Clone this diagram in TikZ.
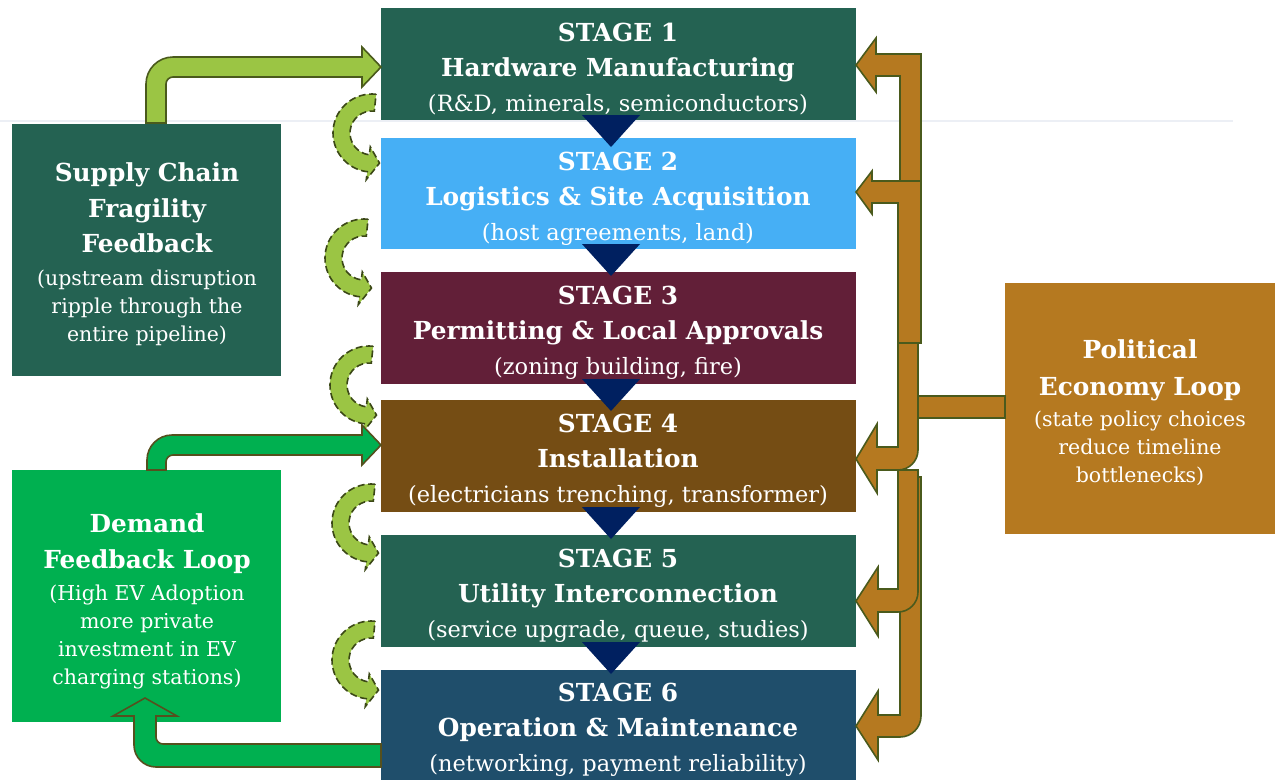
\documentclass[tikz,border=0pt]{standalone}
\usepackage{fontspec}
\setmainfont{DejaVu Serif}
\usetikzlibrary{calc}
\definecolor{stgreen}{RGB}{36,98,82}
\definecolor{stblue}{RGB}{70,175,245}
\definecolor{stmaroon}{RGB}{98,31,56}
\definecolor{stbrown}{RGB}{117,77,20}
\definecolor{stnavy}{RGB}{31,78,107}
\definecolor{tri}{RGB}{0,32,96}
\definecolor{demandgreen}{RGB}{0,176,80}
\definecolor{polbrown}{RGB}{181,121,32}
\definecolor{lime}{RGB}{155,197,68}
\definecolor{olive}{RGB}{74,90,28}
\definecolor{darkolive}{RGB}{85,80,30}
\definecolor{rule}{RGB}{236,239,245}
\newcommand\hdfont{\fontsize{24.8}{35}\selectfont\bfseries}
\newcommand\stsub{\fontsize{22.5}{35}\selectfont}
\newcommand\sdsub{\fontsize{20.5}{35}\selectfont}
\begin{document}
\begin{tikzpicture}[x=1pt,y=-1pt,
  stagebox/.style={minimum width=475pt,inner sep=0pt,outer sep=0pt},
  sidebox/.style={minimum width=269pt,minimum height=252pt,inner sep=0pt,outer sep=0pt},
  txt/.style={text=white,align=center,inner sep=0pt,font=\fontsize{20}{35}\selectfont},
  feed/.style={fill=polbrown,draw=olive,line width=1.6pt,line join=miter},
  bentlime/.style={fill=lime,draw=olive,line width=1.6pt,line join=miter},
  bentgreen/.style={fill=demandgreen,draw=darkolive,line width=1.6pt,line join=miter},
  dasharrow/.style={fill=lime,draw=olive!80!black,line width=1.6pt,dash pattern=on 7pt off 3.5pt},
  cyclearrow/.pic={
    \draw[dasharrow] (276:39) arc[start angle=276,end angle=97,radius=39]
      -- (97:47) -- (76:31) -- (97:14) -- (97:22)
      arc[start angle=97,end angle=276,radius=22] -- cycle;
  }]
\useasboundingbox (0,0) rectangle (1279,780);
\fill[white] (0,0) rectangle (1279,780);
\draw[rule,line width=1.2pt] (0,121) -- (1233,121);

% pipeline stages
\node[stagebox,fill=stgreen,minimum height=112pt]  (s1) at (618.5,64)    {};
\node[stagebox,fill=stblue,minimum height=111pt]   (s2) at (618.5,193.5) {};
\node[stagebox,fill=stmaroon,minimum height=112pt] (s3) at (618.5,328)   {};
\node[stagebox,fill=stbrown,minimum height=112pt]  (s4) at (618.5,456)   {};
\node[stagebox,fill=stgreen,minimum height=112pt]  (s5) at (618.5,591)   {};
\node[stagebox,fill=stnavy,minimum height=110pt]   (s6) at (618.5,725)   {};

% feedback boxes
\node[sidebox,fill=stgreen]     (sc) at (146.5,250) {};
\node[sidebox,fill=demandgreen] (dm) at (146.5,596) {};
\node[sidebox,fill=polbrown,minimum width=270pt,minimum height=251pt] (pe) at (1140,408.5) {};

% stage-to-stage triangles
\foreach \a in {s1,s2,s3,s4,s5}
  \fill[tri] ($(\a.south)+(-36.5,-5)$) -- ($(\a.south)+(21.5,-5)$) -- ($(\a.south)+(-7.5,27)$) -- cycle;

% dashed loop-back arrows beside the stages
\pic at (372,133) {cyclearrow};
\pic at (364,258) {cyclearrow};
\pic at (369,385) {cyclearrow};
\pic at (371,523) {cyclearrow};
\pic at (371,660) {cyclearrow};

% supply chain feedback arrow
\draw[bentlime] (146,123) -- (146,84) arc[start angle=180,end angle=270,radius=27]
  -- (362,57) -- (362,47) -- (s1.west |- 0,67) -- (362,87) -- (362,77) -- (173,77)
  arc[start angle=270,end angle=180,radius=7] -- (166,123) -- cycle;

% demand feedback arrows
\draw[bentgreen] (147,470) -- (147,460) arc[start angle=180,end angle=270,radius=25]
  -- (362,435) -- (362,425) -- (s4.west |- 0,445) -- (362,465) -- (362,455) -- (173,455)
  arc[start angle=270,end angle=180,radius=7] -- (166,470) -- cycle;
\draw[bentgreen] (s6.west |- 0,744) -- (163,744) arc[start angle=90,end angle=180,radius=7]
  -- (156,716) -- (177,716) -- (145,698) -- (113,716) -- (134,716) -- (134,745)
  arc[start angle=180,end angle=90,radius=22] -- (s6.west |- 0,767) -- cycle;

% political economy feedback arrows
\draw[feed] (pe.west |- 0,396) -- (915,396) -- (915,418) -- (pe.west |- 0,418) -- cycle;
\draw[feed] (900,477) -- (900,715) -- (878,715) -- (878,691) -- (s6.east |- 0,726) -- (878,760)
  -- (878,737) -- (900,737) arc[start angle=90,end angle=0,radius=21] -- (921,477) -- cycle;
\draw[feed] (898,470) -- (898,589) -- (878,589) -- (878,567) -- (s5.east |- 0,601) -- (878,636)
  -- (878,612) -- (898,612) arc[start angle=90,end angle=0,radius=20] -- (918,470) -- cycle;
\draw[feed] (898,343) -- (898,447) -- (877,447) -- (877,424) -- (s4.east |- 0,459) -- (877,493)
  -- (877,470) -- (898,470) arc[start angle=90,end angle=0,radius=20] -- (918,343) -- cycle;
\draw[feed] (900,343) -- (900,76) -- (876,76) -- (876,92) -- (s1.east |- 0,65) -- (876,38)
  -- (876,54) -- (921,54) -- (921,343) -- cycle;
\draw[feed] (898,343) -- (898,203) -- (872,203) -- (872,214) -- (s2.east |- 0,192) -- (872,171)
  -- (872,181) -- (921,181) -- (921,343) -- cycle;

% texts
\node[txt] (s1t) at (618,69)  {{\hdfont STAGE 1}\\{\hdfont Hardware Manufacturing}\\{\stsub (R\&D, minerals, semiconductors)}};
\node[txt] (s2t) at (618,198.5){{\hdfont STAGE 2}\\{\hdfont Logistics \& Site Acquisition}\\{\stsub (host agreements, land)}};
\node[txt] (s3t) at (618,333) {{\hdfont STAGE 3}\\{\hdfont Permitting \& Local Approvals}\\{\stsub (zoning building, fire)}};
\node[txt] (s4t) at (618,461) {{\hdfont STAGE 4}\\{\hdfont Installation}\\{\stsub (electricians trenching, transformer)}};
\node[txt] (s5t) at (618,596) {{\hdfont STAGE 5}\\{\hdfont Utility Interconnection}\\{\stsub (service upgrade, queue, studies)}};
\node[txt] (s6t) at (618,730) {{\hdfont STAGE 6}\\{\hdfont Operation \& Maintenance}\\{\stsub (networking, payment reliability)}};

\node[txt] (sct) at (147,254) {{\hdfont Supply Chain}\\[1.5pt]{\hdfont Fragility}\\[0pt]{\hdfont Feedback}\\[-2pt]
  {\sdsub (upstream disruption}\\[-7pt]{\sdsub ripple through the}\\[-7pt]{\sdsub entire pipeline)}};
\node[txt] (dmt) at (147,601) {{\hdfont Demand}\\[1pt]{\hdfont Feedback Loop}\\[-3pt]
  {\sdsub (High EV Adoption}\\[-7pt]{\sdsub more private}\\[-7pt]{\sdsub investment in EV}\\[-7pt]{\sdsub charging stations)}};
\node[txt] (pet) at (1140,412.5) {{\hdfont Political}\\[1.5pt]{\hdfont Economy Loop}\\[-4pt]
  {\sdsub (state policy choices}\\[-7pt]{\sdsub reduce timeline}\\[-7pt]{\sdsub bottlenecks)}};
\end{tikzpicture}
\end{document}
